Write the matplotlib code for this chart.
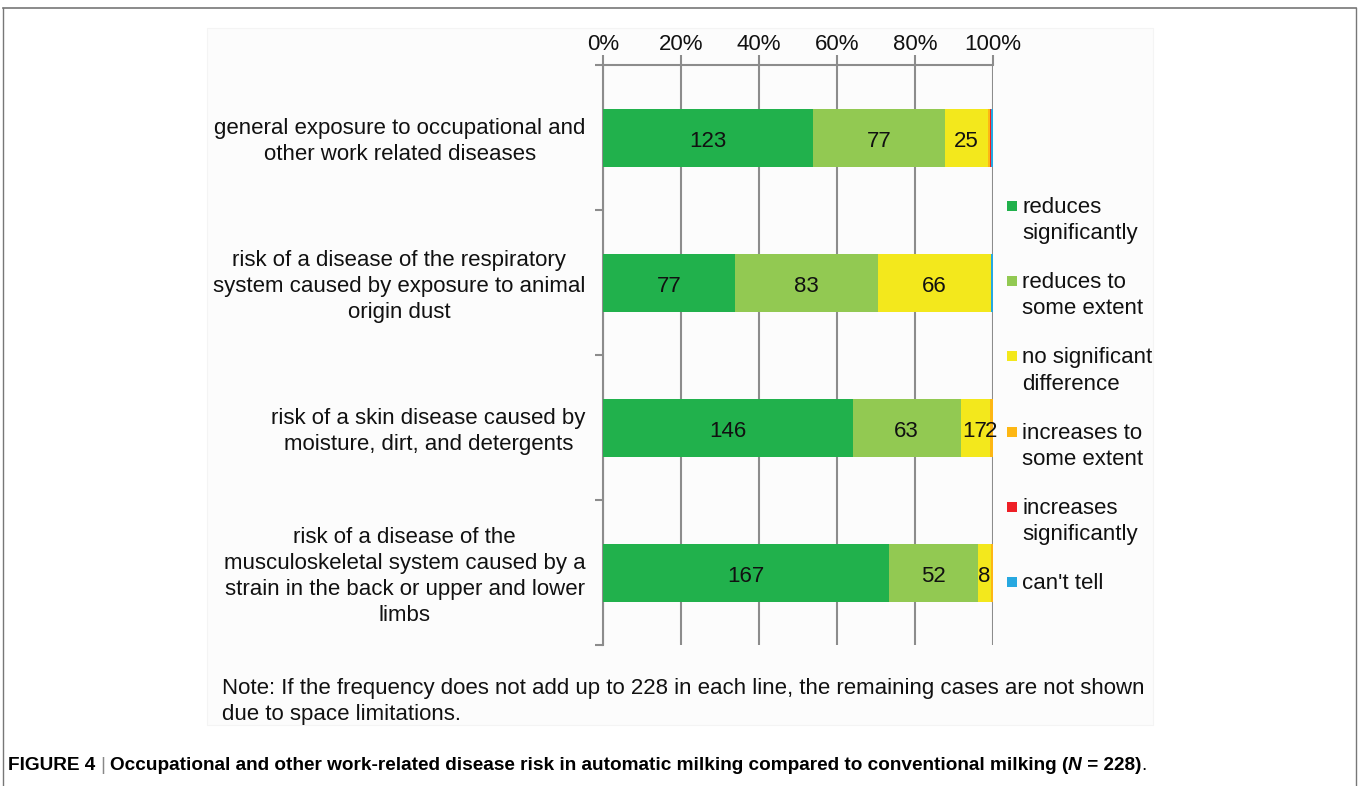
import matplotlib
matplotlib.use("Agg")
import matplotlib.pyplot as plt
from matplotlib.patches import Rectangle
from matplotlib.lines import Line2D
import matplotlib.transforms as mtransforms
import numpy as np

plt.rcParams['font.family'] = ['Liberation Sans', 'DejaVu Sans']

# data
categories = [
    "general exposure to occupational and\nother work related diseases",
    "risk of a disease of the respiratory\nsystem caused by exposure to animal\norigin dust",
    "risk of a skin disease caused by\nmoisture, dirt, and detergents",
    "risk of a disease of the\nmusculoskeletal system caused by a\nstrain in the back or upper and lower\nlimbs",
]
series_names = ["reduces\nsignificantly", "reduces to\nsome extent", "no significant\ndifference",
                "increases to\nsome extent", "increases\nsignificantly", "can't tell"]
reduces_sig = [123, 77, 146, 167]
reduces_some = [77, 83, 63, 52]
no_diff = [25, 66, 17, 8]
increases_some = [1, 0, 2, 1]
increases_sig = [1, 0, 0, 0]
cant_tell = [1, 1, 0, 0]
colors = ["#21b14c", "#92c952", "#f3e81c", "#fdb714", "#ee1f26", "#27a8e0"]
xticks = [0, 20, 40, 60, 80, 100]

W, H = 1359, 786
FS = 16
fig = plt.figure(figsize=(W / 100, H / 100), dpi=100)

def fx(px):
    return px / W

def fy(py):
    return 1 - py / H

# outer frame and faint chart box
fig.add_artist(Line2D([fx(3), fx(1356)], [fy(8), fy(8)], color="#777777", lw=1.2, zorder=-2))
fig.add_artist(Line2D([fx(3), fx(3)], [fy(8), 0], color="#777777", lw=1.0, zorder=-2))
fig.add_artist(Line2D([fx(1356), fx(1356)], [fy(8), 0], color="#777777", lw=1.0, zorder=-2))
fig.add_artist(Rectangle((fx(207), fy(725)), fx(1153) - fx(207), fy(28) - fy(725),
                         facecolor="#fcfcfc", edgecolor="#f4f4f4", lw=0.8, zorder=-1))

ax = fig.add_axes([fx(603), fy(645), fx(993) - fx(603), fy(65) - fy(645)])
ax.set_facecolor("none")

data = np.array([reduces_sig, reduces_some, no_diff, increases_some, increases_sig, cant_tell], dtype=float)
totals = data.sum(axis=0)
pct = data / totals * 100
ypos = np.arange(len(categories)) + 0.5

down = mtransforms.ScaledTranslation(0, -4 / 100, fig.dpi_scale_trans)

left = np.zeros(len(categories))
for i in range(len(series_names)):
    ax.barh(ypos, pct[i], left=left, height=0.4, color=colors[i], zorder=3)
    for j in range(len(categories)):
        if data[i, j] >= 2:
            ax.text(left[j] + pct[i, j] / 2, ypos[j], str(int(data[i, j])),
                    ha="center", va="center", fontsize=FS, color="#111111", zorder=4,
                    transform=ax.transData + down)
    left += pct[i]

ax.set_xlim(0, 100)
ax.set_ylim(len(categories), 0)
ax.xaxis.tick_top()
ax.set_xticks(xticks)
ax.set_xticklabels([f"{t}%" for t in xticks], fontsize=FS, color="#111111")
ax.tick_params(axis="x", length=7, width=1.5, color="#8c8c8c", pad=0)
ax.set_yticks(np.arange(len(categories) + 1))
ax.set_yticklabels([])
ax.tick_params(axis="y", length=6, width=1.5, color="#8c8c8c")
ax.grid(axis="x", color="#8c8c8c", lw=1.5, zorder=1)
for s in ["right", "bottom"]:
    ax.spines[s].set_visible(False)
for s in ["left", "top"]:
    ax.spines[s].set_color("#8c8c8c")
    ax.spines[s].set_linewidth(1.5)

for j, cat in enumerate(categories):
    ax.text(-0.045, ypos[j], cat, transform=ax.get_yaxis_transform() + down,
            ha="right", va="center", multialignment="center",
            fontsize=FS, color="#111111", linespacing=1.33)

# legend
for i, name in enumerate(series_names):
    y = 206 + i * 75.2
    fig.add_artist(Rectangle((fx(1007), fy(y + 5)), fx(10), 10 / H,
                             facecolor=colors[i], edgecolor="none"))
    fig.text(fx(1022), fy(y - 9), name, ha="left", va="top", fontsize=FS,
             color="#111111", linespacing=1.33)

fig.text(fx(222), fy(701.5), "Note: If the frequency does not add up to 228 in each line, the remaining cases are not shown\ndue to space limitations.",
         ha="left", va="center", fontsize=FS, color="#111111", linespacing=1.3)

# caption
CF = 13.65
cap_font = ['Liberation Sans Narrow', 'Liberation Sans']
t1 = fig.text(fx(8), fy(765), "FIGURE 4 ", ha="left", va="center", fontsize=CF,
              fontweight="bold", family=cap_font)
fig.canvas.draw()
r = fig.canvas.get_renderer()
bb = t1.get_window_extent(r)
t2 = fig.text(bb.x1 / W, fy(765), "|", ha="left", va="center", fontsize=CF,
              color="#888888", family=cap_font)
bb = t2.get_window_extent(r)
t3 = fig.text(bb.x1 / W + 4 / W, fy(765),
              "Occupational and other work-related disease risk in automatic milking compared to conventional milking (",
              ha="left", va="center", fontsize=CF, fontweight="bold", family=cap_font)
bb = t3.get_window_extent(r)
t4 = fig.text(bb.x1 / W, fy(765), "N", ha="left", va="center", fontsize=CF,
              fontweight="bold", style="italic", family=cap_font)
bb = t4.get_window_extent(r)
t5 = fig.text(bb.x1 / W, fy(765), " = 228)", ha="left", va="center", fontsize=CF,
              fontweight="bold", family=cap_font)
bb = t5.get_window_extent(r)
fig.text(bb.x1 / W, fy(765), ".", ha="left", va="center", fontsize=CF, family=cap_font)

fig.savefig("out.png", dpi=100)
